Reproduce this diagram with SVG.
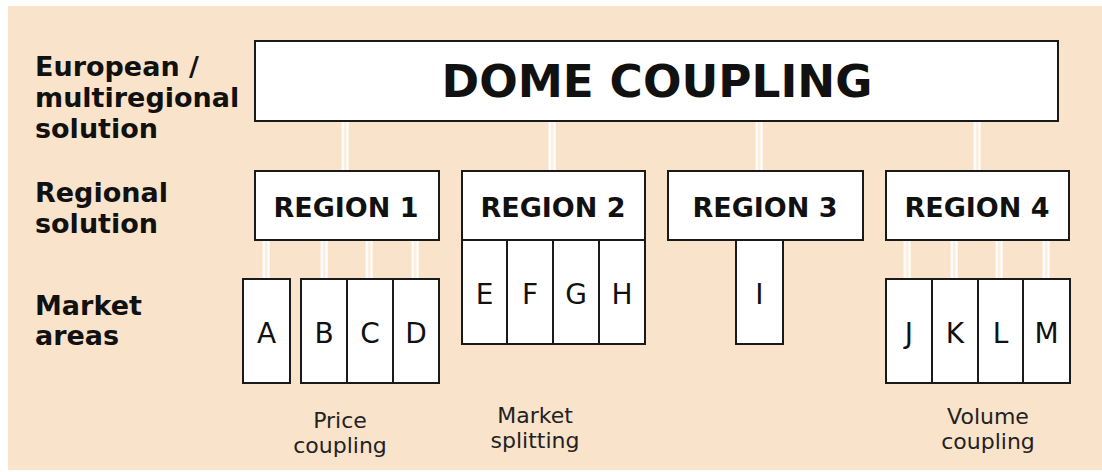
<svg xmlns="http://www.w3.org/2000/svg" width="1102" height="472" viewBox="0 0 1102 472">
<style>
.box{fill:#ffffff;stroke:#1a1a1a;stroke-width:2}
.lbl{font-family:"DejaVu Sans","Verdana",sans-serif;font-weight:bold;font-size:27px;fill:#111}
.reg{font-family:"DejaVu Sans","Verdana",sans-serif;font-weight:bold;font-size:27px;fill:#111;text-anchor:middle}
.mk{font-family:"DejaVu Sans","Verdana",sans-serif;font-size:28px;fill:#111;text-anchor:middle}
.note{font-family:"DejaVu Sans","Verdana",sans-serif;font-size:22px;fill:#222;text-anchor:middle}
.cs{fill:#fcefe2}
.cl{stroke:#ffffff;stroke-width:1.6}
</style>
<rect x="0" y="0" width="1102" height="472" fill="#ffffff"/>
<rect x="8" y="6" width="1094" height="464" fill="#fae3cb"/>

<g id="row-labels">
<text class="lbl" x="35" y="76">European /</text>
<text class="lbl" x="35" y="107">multiregional</text>
<text class="lbl" x="35" y="138">solution</text>
<text class="lbl" x="35" y="202">Regional</text>
<text class="lbl" x="35" y="233">solution</text>
<text class="lbl" x="35" y="315">Market</text>
<text class="lbl" x="35" y="345">areas</text>
</g>

<g id="connectors">
<g id="c-r1"><rect class="cs" x="341" y="122" width="8" height="49"/><line class="cl" x1="343" y1="122" x2="343" y2="171"/><line class="cl" x1="347.5" y1="122" x2="347.5" y2="171"/></g>
<g id="c-r2"><rect class="cs" x="548" y="122" width="8" height="49"/><line class="cl" x1="550" y1="122" x2="550" y2="171"/><line class="cl" x1="554.5" y1="122" x2="554.5" y2="171"/></g>
<g id="c-r3"><rect class="cs" x="755" y="122" width="8" height="49"/><line class="cl" x1="757" y1="122" x2="757" y2="171"/><line class="cl" x1="761.5" y1="122" x2="761.5" y2="171"/></g>
<g id="c-r4"><rect class="cs" x="973" y="122" width="8" height="49"/><line class="cl" x1="975" y1="122" x2="975" y2="171"/><line class="cl" x1="979.5" y1="122" x2="979.5" y2="171"/></g>
<g id="c-a"><rect class="cs" x="262" y="241" width="8" height="38"/><line class="cl" x1="264" y1="241" x2="264" y2="279"/><line class="cl" x1="268.5" y1="241" x2="268.5" y2="279"/></g>
<g id="c-b"><rect class="cs" x="320" y="241" width="8" height="38"/><line class="cl" x1="322" y1="241" x2="322" y2="279"/><line class="cl" x1="326.5" y1="241" x2="326.5" y2="279"/></g>
<g id="c-c"><rect class="cs" x="365" y="241" width="8" height="38"/><line class="cl" x1="367" y1="241" x2="367" y2="279"/><line class="cl" x1="371.5" y1="241" x2="371.5" y2="279"/></g>
<g id="c-d"><rect class="cs" x="411" y="241" width="8" height="38"/><line class="cl" x1="413" y1="241" x2="413" y2="279"/><line class="cl" x1="417.5" y1="241" x2="417.5" y2="279"/></g>
<g id="c-j"><rect class="cs" x="903" y="241" width="8" height="38"/><line class="cl" x1="905" y1="241" x2="905" y2="279"/><line class="cl" x1="909.5" y1="241" x2="909.5" y2="279"/></g>
<g id="c-k"><rect class="cs" x="950" y="241" width="8" height="38"/><line class="cl" x1="952" y1="241" x2="952" y2="279"/><line class="cl" x1="956.5" y1="241" x2="956.5" y2="279"/></g>
<g id="c-l"><rect class="cs" x="995" y="241" width="8" height="38"/><line class="cl" x1="997" y1="241" x2="997" y2="279"/><line class="cl" x1="1001.5" y1="241" x2="1001.5" y2="279"/></g>
<g id="c-m"><rect class="cs" x="1042" y="241" width="8" height="38"/><line class="cl" x1="1044" y1="241" x2="1044" y2="279"/><line class="cl" x1="1048.5" y1="241" x2="1048.5" y2="279"/></g>
</g>

<g id="dome">
<rect class="box" x="255" y="41" width="803" height="80"/>
<text x="657" y="97" font-family="DejaVu Sans, Verdana, sans-serif" font-weight="bold" font-size="45" fill="#111" text-anchor="middle" textLength="431" lengthAdjust="spacingAndGlyphs">DOME COUPLING</text>
</g>

<g id="region1"><rect class="box" x="255" y="171" width="184" height="69"/><text class="reg" x="346" y="217">REGION 1</text></g>
<g id="region2"><rect class="box" x="462" y="171" width="183" height="69"/><text class="reg" x="553" y="217">REGION 2</text></g>
<g id="region3"><rect class="box" x="668" y="171" width="195" height="69"/><text class="reg" x="765" y="217">REGION 3</text></g>
<g id="region4"><rect class="box" x="886" y="171" width="183" height="69"/><text class="reg" x="977" y="217">REGION 4</text></g>

<g id="area-A"><rect class="box" x="243" y="279" width="47" height="104"/><text class="mk" x="266.5" y="343">A</text></g>
<g id="area-B"><rect class="box" x="301" y="279" width="46" height="104"/><text class="mk" x="324" y="343">B</text></g>
<g id="area-C"><rect class="box" x="347" y="279" width="46" height="104"/><text class="mk" x="370" y="343">C</text></g>
<g id="area-D"><rect class="box" x="393" y="279" width="46" height="104"/><text class="mk" x="416" y="343">D</text></g>

<g id="area-E"><rect class="box" x="462" y="240" width="45" height="104"/><text class="mk" x="484.5" y="304">E</text></g>
<g id="area-F"><rect class="box" x="507" y="240" width="46" height="104"/><text class="mk" x="530" y="304">F</text></g>
<g id="area-G"><rect class="box" x="553" y="240" width="46" height="104"/><text class="mk" x="576" y="304">G</text></g>
<g id="area-H"><rect class="box" x="599" y="240" width="46" height="104"/><text class="mk" x="622" y="304">H</text></g>

<g id="area-I"><rect class="box" x="736" y="240" width="47" height="104"/><text class="mk" x="759.5" y="304">I</text></g>

<g id="area-J"><rect class="box" x="886" y="279" width="46" height="104"/><text class="mk" x="909" y="343">J</text></g>
<g id="area-K"><rect class="box" x="932" y="279" width="46" height="104"/><text class="mk" x="955" y="343">K</text></g>
<g id="area-L"><rect class="box" x="978" y="279" width="45" height="104"/><text class="mk" x="1000.5" y="343">L</text></g>
<g id="area-M"><rect class="box" x="1023" y="279" width="47" height="104"/><text class="mk" x="1046.5" y="343">M</text></g>

<g id="notes">
<text class="note" x="340" y="428">Price</text>
<text class="note" x="340" y="453">coupling</text>
<text class="note" x="535" y="423">Market</text>
<text class="note" x="535" y="448">splitting</text>
<text class="note" x="988" y="424">Volume</text>
<text class="note" x="988" y="449">coupling</text>
</g>
</svg>
